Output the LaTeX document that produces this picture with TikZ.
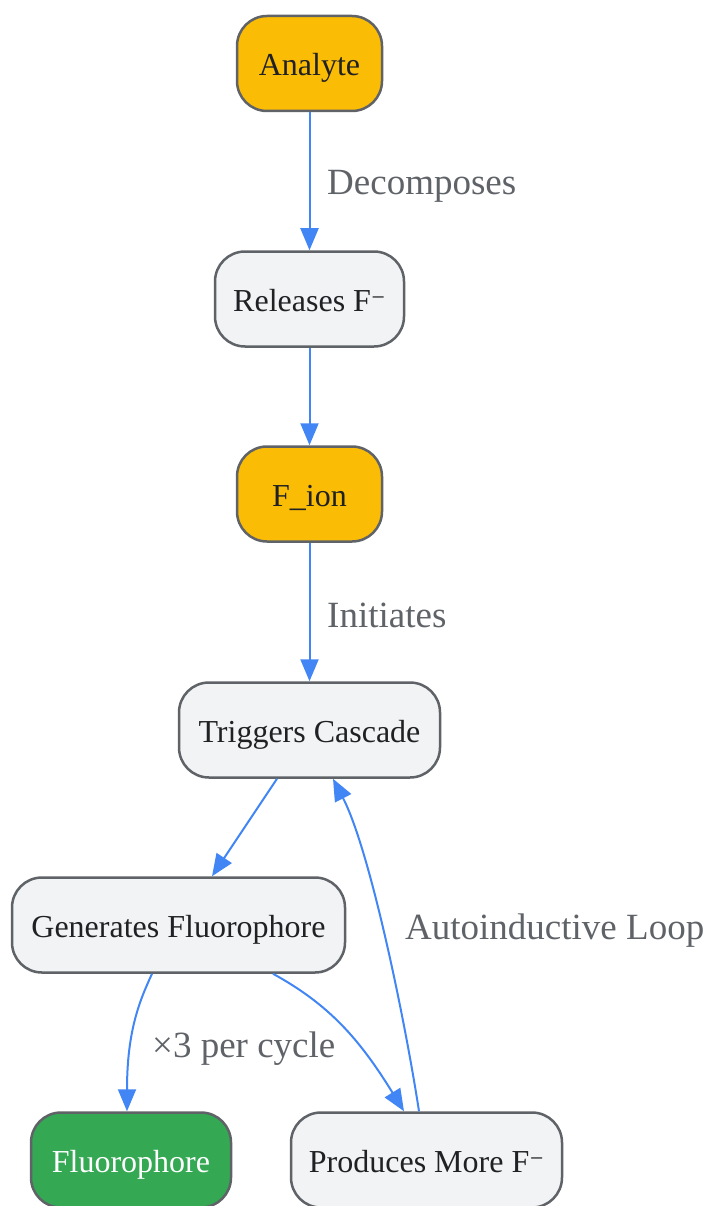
\documentclass[tikz,border=0pt]{standalone}
\usepackage{fontspec}
\setmainfont{Liberation Serif}
\newfontfamily\supfont{DejaVu Serif}
\newcommand{\supminus}{{\supfont\fontsize{28}{30}\selectfont ⁻}}
\usetikzlibrary{arrows.meta}
\definecolor{edgeblue}{HTML}{4285F4}
\definecolor{bordergray}{HTML}{5F6368}
\definecolor{lightfill}{HTML}{F1F3F4}
\definecolor{amber}{HTML}{FBBC05}
\definecolor{green}{HTML}{34A853}
\definecolor{darktext}{HTML}{202124}
\tikzset{
  box/.style={draw=bordergray, line width=2.5pt, rounded corners=30pt, fill=lightfill,
    text=darktext, minimum height=95pt, inner sep=0pt, text height=31pt, text depth=6pt,
    font=\fontsize{32}{36}\selectfont},
  amberbox/.style={box, fill=amber},
  greenbox/.style={box, fill=green, text=white},
  conn/.style={draw=edgeblue, line width=2pt, -{Triangle[length=22pt,width=18pt]}},
  elabel/.style={text=bordergray, font=\fontsize{37}{42}\selectfont, inner sep=0pt, anchor=base west}
}
\begin{document}
\begin{tikzpicture}[x=1pt,y=-1pt]
\useasboundingbox (0,0) rectangle (710,1206);
\node[amberbox, minimum width=145pt] (analyte) at (309.5,63.5) {Analyte};
\node[box, minimum width=189pt] (releases) at (309.5,299) {Releases F\supminus};
\node[amberbox, minimum width=145pt] (fion) at (309.5,494) {F\_ion};
\node[box, minimum width=261pt] (trig) at (309.5,730) {Triggers Cascade};
\node[box, minimum width=333pt] (gen) at (178.5,925) {Generates Fluorophore};
\node[greenbox, minimum width=200pt] (fluor) at (131,1160) {Fluorophore};
\node[box, minimum width=271pt] (prod) at (426.5,1160) {Produces More F\supminus};

\draw[conn] (analyte.south) -- (releases.north);
\draw[conn] (releases.south) -- (fion.north);
\draw[conn] (fion.south) -- (trig.north);
\draw[conn] ([xshift=-32.5pt]trig.south) -- ([xshift=33.5pt]gen.north);
\draw[conn] ([xshift=-26.5pt]gen.south) .. controls (140,1000) and (127,1030) .. ([xshift=-4pt]fluor.north);
\draw[conn] ([xshift=94.5pt]gen.south) .. controls (330,1005) and (360,1040) .. ([xshift=-22.5pt]prod.north);
\draw[conn] ([xshift=-7.5pt]prod.north) .. controls (405,1020) and (370,850) .. ([xshift=23.5pt]trig.south);

\node[elabel] (l1) at (327,195) {Decomposes};
\node[elabel] (l2) at (327,627) {Initiates};
\node[elabel] (l3) at (152,1057) {×3 per cycle};
\node[elabel] (l4) at (405,939) {Autoinductive Loop};
\end{tikzpicture}
\end{document}
